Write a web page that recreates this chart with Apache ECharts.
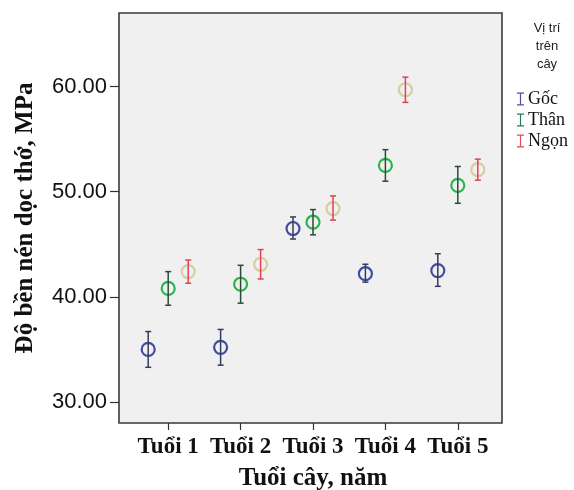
<!DOCTYPE html>
<html><head><meta charset="utf-8">
<script src="https://cdn.jsdelivr.net/npm/echarts@6/dist/echarts.min.js"></script>
<style>html,body{margin:0;padding:0;background:#fff}#c{width:574px;height:490px}</style>
</head><body><div id="c"></div>
<script>
const categories = ['Tuổi 1', 'Tuổi 2', 'Tuổi 3', 'Tuổi 4', 'Tuổi 5'];
const seriesNames = ['Gốc', 'Thân', 'Ngọn'];
const gocMean = [35.0, 35.2, 46.5, 42.2, 42.5];
const gocLow = [33.3, 33.5, 45.5, 41.4, 41.0];
const gocHigh = [36.7, 36.9, 47.6, 43.1, 44.1];
const thanMean = [40.8, 41.2, 47.1, 52.5, 50.6];
const thanLow = [39.2, 39.4, 45.9, 51.0, 48.9];
const thanHigh = [42.4, 43.0, 48.3, 54.0, 52.4];
const ngonMean = [42.4, 43.1, 48.4, 59.7, 52.1];
const ngonLow = [41.3, 41.7, 47.3, 58.5, 51.1];
const ngonHigh = [43.5, 44.5, 49.6, 60.9, 53.1];
const yTicks = [30, 40, 50, 60];

const dodge = [-20, 0, 20];
const circleColors = ['#3f4ea0', '#2eb34c', '#d9cc9c'];
const barColors = ['#363c5c', '#2b4a3c', '#e2405a'];
const legendColors = ['#50509a', '#2a7a5a', '#e04a5a'];

function build(means, lows, highs) {
  return categories.map((c, i) => [i, means[i], lows[i], highs[i]]);
}
const allData = [build(gocMean, gocLow, gocHigh), build(thanMean, thanLow, thanHigh), build(ngonMean, ngonLow, ngonHigh)];

function makeRender(k) {
  return function (params, api) {
    const i = api.value(0);
    const pm = api.coord([i, api.value(1)]);
    const pl = api.coord([i, api.value(2)]);
    const ph = api.coord([i, api.value(3)]);
    const x = pm[0] + dodge[k];
    const cw = 3;
    const ls = { stroke: barColors[k], lineWidth: 1.5 };
    return {
      type: 'group',
      children: [
        { type: 'circle', shape: { cx: x, cy: pm[1], r: 6.5 }, style: { fill: 'none', stroke: circleColors[k], lineWidth: 2.2 } },
        { type: 'line', shape: { x1: x, y1: pl[1], x2: x, y2: ph[1] }, style: ls },
        { type: 'line', shape: { x1: x - cw, y1: pl[1], x2: x + cw, y2: pl[1] }, style: ls },
        { type: 'line', shape: { x1: x - cw, y1: ph[1], x2: x + cw, y2: ph[1] }, style: ls }
      ]
    };
  };
}

const chart = echarts.init(document.getElementById('c'));
chart.setOption({
  animation: false,
  title: {
    text: 'Vị trí\ntrên\ncây', left: 542, top: 14, textAlign: 'center',
    textStyle: { fontFamily: 'Liberation Sans, Arial', fontSize: 13, fontWeight: 'normal', color: '#222', lineHeight: 18 }
  },
  legend: {
    orient: 'vertical', left: 512, top: 85, itemGap: 3, itemWidth: 7, itemHeight: 13,
    icon: 'path://M0,0H7V1.2H4.1V11.8H7V13H0V11.8H2.9V1.2H0Z',
    textStyle: { fontFamily: 'Liberation Serif, Times New Roman', fontSize: 18, color: '#111', padding: [0, 0, 0, -1] },
    data: seriesNames.map((n, k) => ({ name: n, itemStyle: { color: legendColors[k] } }))
  },
  grid: [
    { left: 119, top: 13, width: 383, height: 410, outerBoundsMode: 'none', containLabel: false, show: true, backgroundColor: '#f0f0f0', borderColor: '#3a3a3a', borderWidth: 1.6 },
    { left: 132, top: 13, width: 362, height: 410, outerBoundsMode: 'none', containLabel: false }
  ],
  xAxis: [
    { gridIndex: 0, type: 'value', show: false, min: 0, max: 1 },
    {
      gridIndex: 1, type: 'category', data: categories, boundaryGap: true,
      axisLine: { show: false, onZero: false },
      axisTick: { show: true, alignWithLabel: true, length: 7, lineStyle: { color: '#333', width: 1.2 } },
      axisLabel: { interval: 0, margin: 13, fontFamily: 'Liberation Serif, Times New Roman', fontWeight: 'bold', fontSize: 23, color: '#111' },
      name: 'Tuổi cây, năm', nameLocation: 'middle', nameGap: 43,
      nameTextStyle: { fontFamily: 'Liberation Serif, Times New Roman', fontWeight: 'bold', fontSize: 25, color: '#111' }
    }
  ],
  yAxis: [
    { gridIndex: 0, type: 'value', show: false, min: 0, max: 1 },
    {
      gridIndex: 1, type: 'value', min: 28, max: 67, offset: 13,
      axisLine: { show: false, onZero: false },
      splitLine: { show: false },
      axisTick: { show: true, length: 9, customValues: yTicks, lineStyle: { color: '#333', width: 1.2 } },
      axisLabel: { customValues: yTicks, formatter: v => v.toFixed(2), margin: 12, fontFamily: 'Liberation Sans, Arial', fontSize: 22, color: '#111' },
      name: 'Độ bền nén dọc thớ, MPa', nameLocation: 'middle', nameGap: 81,
      nameTextStyle: { fontFamily: 'Liberation Serif, Times New Roman', fontWeight: 'bold', fontSize: 25, color: '#111' }
    }
  ],
  series: seriesNames.map((n, k) => ({
    name: n, type: 'custom', xAxisIndex: 1, yAxisIndex: 1,
    renderItem: makeRender(k), data: allData[k],
    itemStyle: { color: legendColors[k] },
    encode: { x: 0, y: [1, 2, 3] }
  }))
});
</script>
</body></html>
